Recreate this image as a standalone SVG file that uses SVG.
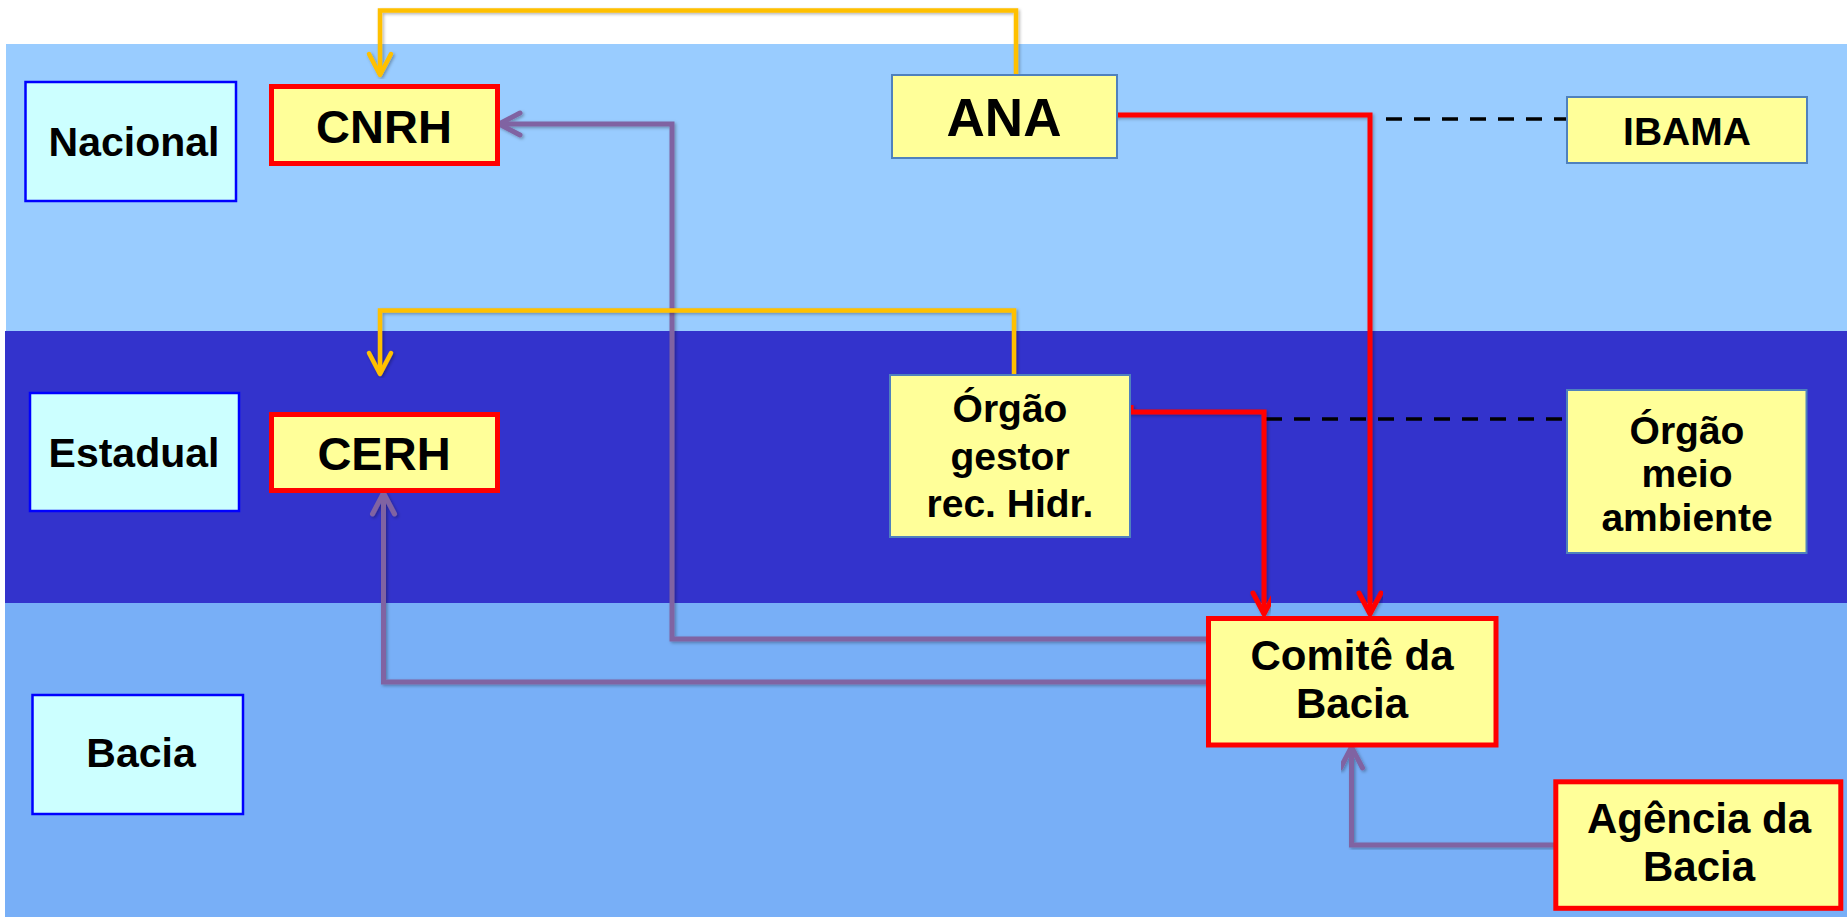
<svg xmlns="http://www.w3.org/2000/svg" width="1847" height="917" viewBox="0 0 1847 917">
  <style>
    text { font-family: "Liberation Sans", Arial, sans-serif; font-weight: bold; fill: #000; text-anchor: middle; }
    .lvl { fill: #CCFFFF; stroke: #0000FF; stroke-width: 2.5; }
    .key { fill: #FFFF99; stroke: #FF0000; stroke-width: 5; }
    .org { fill: #FFFF99; stroke: #4F81BD; stroke-width: 2; }
    .lbl { font-size: 41px; }
    .c { fill: none; stroke-width: 5; stroke-linejoin: miter; filter: url(#sh); }
    .y { stroke: #FFC000; stroke-width: 4.5; }
    .p { stroke: #8064A2; }
    .r { stroke: #FF0000; }
    .d { fill: none; stroke: #000; stroke-width: 3.5; stroke-dasharray: 16 12; }
  </style>
  <defs>
    <filter id="sh" x="-5%" y="-5%" width="110%" height="110%">
      <feDropShadow dx="1.5" dy="1.5" stdDeviation="1.5" flood-color="#000" flood-opacity="0.3"/>
    </filter>
    <marker id="aY" markerUnits="userSpaceOnUse" markerWidth="40" markerHeight="40" refX="0" refY="0" orient="auto" overflow="visible">
      <path d="M-21,-11 L0,0 L-21,11" fill="none" stroke="#FFC000" stroke-width="4.5" stroke-linecap="round" stroke-linejoin="round"/>
    </marker>
    <marker id="aP" markerUnits="userSpaceOnUse" markerWidth="40" markerHeight="40" refX="0" refY="0" orient="auto" overflow="visible">
      <path d="M-21,-11 L0,0 L-21,11" fill="none" stroke="#8064A2" stroke-width="5" stroke-linecap="round" stroke-linejoin="round"/>
    </marker>
    <marker id="aR" markerUnits="userSpaceOnUse" markerWidth="40" markerHeight="40" refX="0" refY="0" orient="auto" overflow="visible">
      <path d="M-21,-11 L0,0 L-21,11" fill="none" stroke="#FF0000" stroke-width="5" stroke-linecap="round" stroke-linejoin="round"/>
    </marker>
  </defs>

  <rect width="1847" height="917" fill="#FFFFFF"/>
  <g id="bands">
    <rect x="6" y="44" width="1841" height="287" fill="#99CCFF"/>
    <rect x="5" y="331" width="1842" height="272" fill="#3333CC"/>
    <rect x="5" y="603" width="1842" height="314" fill="#78AFF7"/>
  </g>

  <g id="connectors">
    <path class="c p" d="M1208,639 H672 V124 H499" marker-end="url(#aP)"/>
    <path class="c p" d="M1208,682 H383.5 V493" marker-end="url(#aP)"/>
    <path class="c p" d="M1555,845 H1351.5 V747" marker-end="url(#aP)"/>
    <path class="c y" d="M1016,74 V10.5 H380 V75" marker-end="url(#aY)"/>
    <path class="c y" d="M1014,374 V310.5 H380 V374" marker-end="url(#aY)"/>
    <path class="d" d="M1386,119 H1566"/>
    <path class="d" d="M1266,419 H1566"/>
    <path class="c r" d="M1115,118 V115 H1370 V614" marker-end="url(#aR)"/>
    <path class="c r" d="M1131,405 V412 H1264 V614" marker-end="url(#aR)"/>
  </g>

  <g id="nacional">
    <rect class="lvl" x="25.5" y="82" width="210.5" height="119"/>
    <text class="lbl" x="134" y="156">Nacional</text>
  </g>
  <g id="estadual">
    <rect class="lvl" x="30" y="393" width="209" height="118"/>
    <text class="lbl" x="134" y="467">Estadual</text>
  </g>
  <g id="bacia">
    <rect class="lvl" x="32.5" y="695" width="210.5" height="119"/>
    <text class="lbl" x="141" y="767">Bacia</text>
  </g>

  <g id="cnrh">
    <rect class="key" x="271.5" y="86.5" width="226" height="77"/>
    <text x="384" y="143" font-size="47">CNRH</text>
  </g>
  <g id="cerh">
    <rect class="key" x="271.5" y="414.5" width="226" height="76"/>
    <text x="384" y="470" font-size="47">CERH</text>
  </g>
  <g id="ana">
    <rect class="org" x="892" y="75" width="225" height="83"/>
    <text x="1004" y="136" font-size="53">ANA</text>
  </g>
  <g id="ibama">
    <rect class="org" x="1567" y="97" width="240" height="66"/>
    <text x="1687" y="145" font-size="39">IBAMA</text>
  </g>
  <g id="orgao-gestor">
    <rect class="org" x="890" y="375" width="240" height="162"/>
    <text x="1010" y="422" font-size="39">Órgão</text>
    <text x="1010" y="470" font-size="39">gestor</text>
    <text x="1010" y="517" font-size="39">rec. Hidr.</text>
  </g>
  <g id="orgao-meio-ambiente">
    <rect class="org" x="1567" y="390" width="239.5" height="163"/>
    <text x="1687" y="444" font-size="39">Órgão</text>
    <text x="1687" y="487" font-size="39">meio</text>
    <text x="1687" y="531" font-size="39">ambiente</text>
  </g>
  <g id="comite">
    <rect class="key" x="1208.5" y="618.5" width="287.5" height="126.5"/>
    <text x="1352" y="670" font-size="42">Comitê da</text>
    <text x="1352" y="718" font-size="42">Bacia</text>
  </g>
  <g id="agencia">
    <rect class="key" x="1555.8" y="781.8" width="285" height="126.5"/>
    <text x="1699" y="833" font-size="42">Agência da</text>
    <text x="1699" y="881" font-size="42">Bacia</text>
  </g>
</svg>
